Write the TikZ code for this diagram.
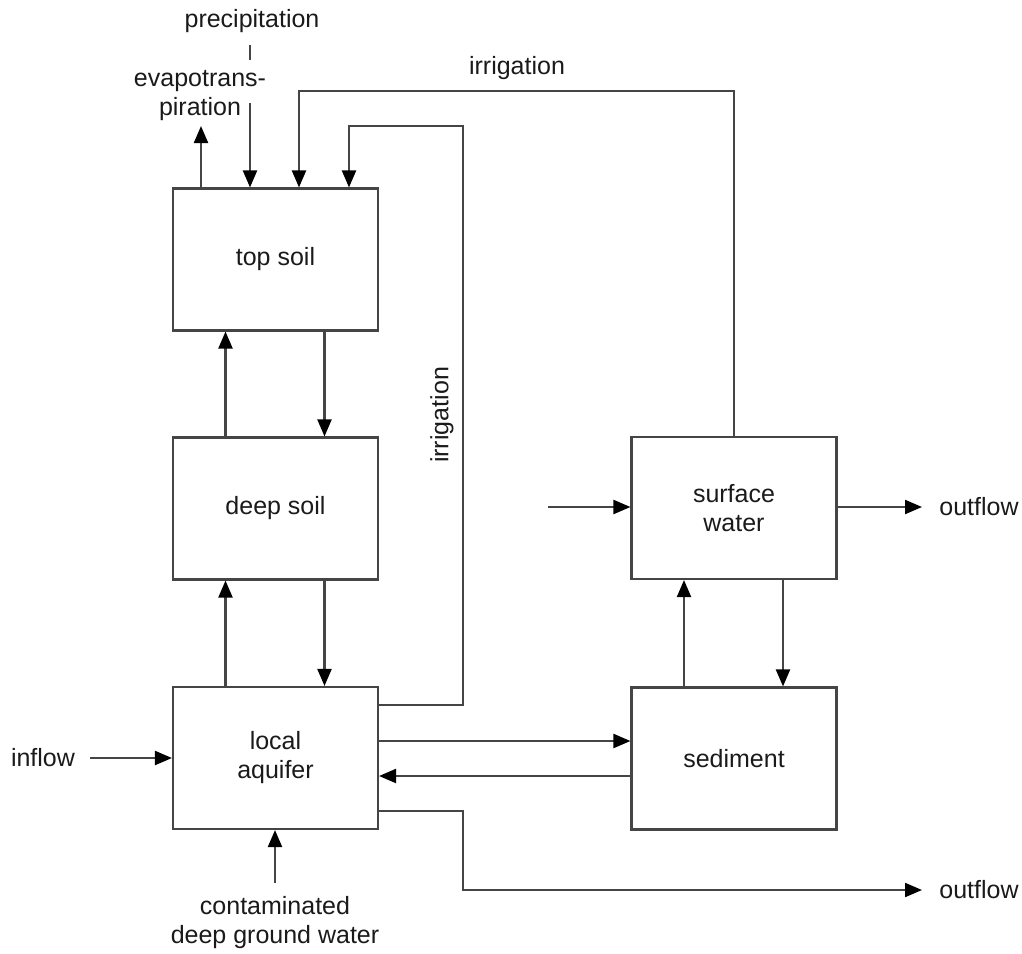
\documentclass[tikz,border=0pt]{standalone}
\usepackage{fontspec}
\setmainfont{Liberation Sans}
\usetikzlibrary{arrows.meta,calc}
\definecolor{linec}{HTML}{454545}
\definecolor{textc}{HTML}{1A1A1A}
\begin{document}
\begin{tikzpicture}[x=1pt,y=-1pt,
  every node/.style={font=\fontsize{25}{29}\selectfont, text=textc, align=center},
  compartment/.style={draw=linec, line width=2.1pt, minimum width=205pt, minimum height=142pt, inner sep=0pt},
  flow/.style={draw=linec, line width=2.1pt, -{Triangle[length=17pt,width=14pt,fill=black,color=black]}},
  plain/.style={draw=linec, line width=2.1pt}]
\useasboundingbox (0,0) rectangle (1022,953);

% compartments
\node[compartment] (topsoil)  at (275.5,259.5) {top soil};
\node[compartment] (deepsoil) at (275.5,508.5) {deep soil};
\node[compartment] (aquifer)  at (275.5,758)   {local\\aquifer};
\node[compartment] (surface)  at (734,508)     {surface\\water};
\node[compartment] (sediment) at (734,758.5)   {sediment};

% labels
\node (precip) at (252,21) {precipitation};
\node (evapo)  at (200,96) {evapotrans-\\piration};
\node (irtop)  at (517,68) {irrigation};
\node[rotate=90] (irside) at (442,415) {irrigation};
\node (inflow) at (43,758) {inflow};
\node (outsw)  at (979,507) {outflow};
\node (outaq)  at (979,890) {outflow};
\node (deepgw) at (275,923) {contaminated\\deep ground water};

% helper points
\coordinate (evtip) at (201,126);
\coordinate (prA) at (250,45);
\coordinate (prB) at (250,60);
\coordinate (prC) at (250,103);
\coordinate (ir1) at (299,91);
\coordinate (ir2a) at (463,705);
\coordinate (ir2b) at (349,126);
\coordinate (aqout) at (463,811);
\coordinate (aqdown) at (463,890);
\coordinate (aqend) at (922,890);
\coordinate (inS) at (90,758);
\coordinate (swin) at (548,507);
\coordinate (swout) at (922,507);
\coordinate (gwS) at (275,883);

% atmosphere exchange
\draw[flow] (topsoil.north -| evtip) -- (evtip);
\draw[plain] (prA) -- (prB);
\draw[flow] (prC) -- (prC |- topsoil.north);

% irrigation from surface water
\draw[flow] (surface.north) |- (ir1) -- (ir1 |- topsoil.north);
% irrigation from local aquifer
\draw[flow] (aquifer.east |- ir2a) -- (ir2a) |- (ir2b) -- (ir2b |- topsoil.north);

% soil column exchange
\draw[flow] ($(deepsoil.north)+(-50,0)$) -- ($(topsoil.south)+(-50,0)$);
\draw[flow] ($(topsoil.south)+(49,0)$) -- ($(deepsoil.north)+(49,0)$);
\draw[flow] ($(aquifer.north)+(-50,0)$) -- ($(deepsoil.south)+(-50,0)$);
\draw[flow] ($(deepsoil.south)+(49,0)$) -- ($(aquifer.north)+(49,0)$);

% surface water / sediment exchange
\draw[flow] ($(sediment.north)+(-50,0)$) -- ($(surface.south)+(-50,0)$);
\draw[flow] ($(surface.south)+(49,0)$) -- ($(sediment.north)+(49,0)$);

% aquifer / sediment exchange
\draw[flow] (aquifer.east |- 0,741) -- (sediment.west |- 0,741);
\draw[flow] (sediment.west |- 0,776) -- (aquifer.east |- 0,776);

% boundary flows
\draw[flow] (inS) -- (aquifer.west |- inS);
\draw[flow] (gwS) -- (gwS |- aquifer.south);
\draw[flow] (aquifer.east |- aqout) -- (aqout) -- (aqdown) -- (aqend);
\draw[flow] (swin) -- (surface.west |- swin);
\draw[flow] (surface.east |- swout) -- (swout);
\end{tikzpicture}
\end{document}
